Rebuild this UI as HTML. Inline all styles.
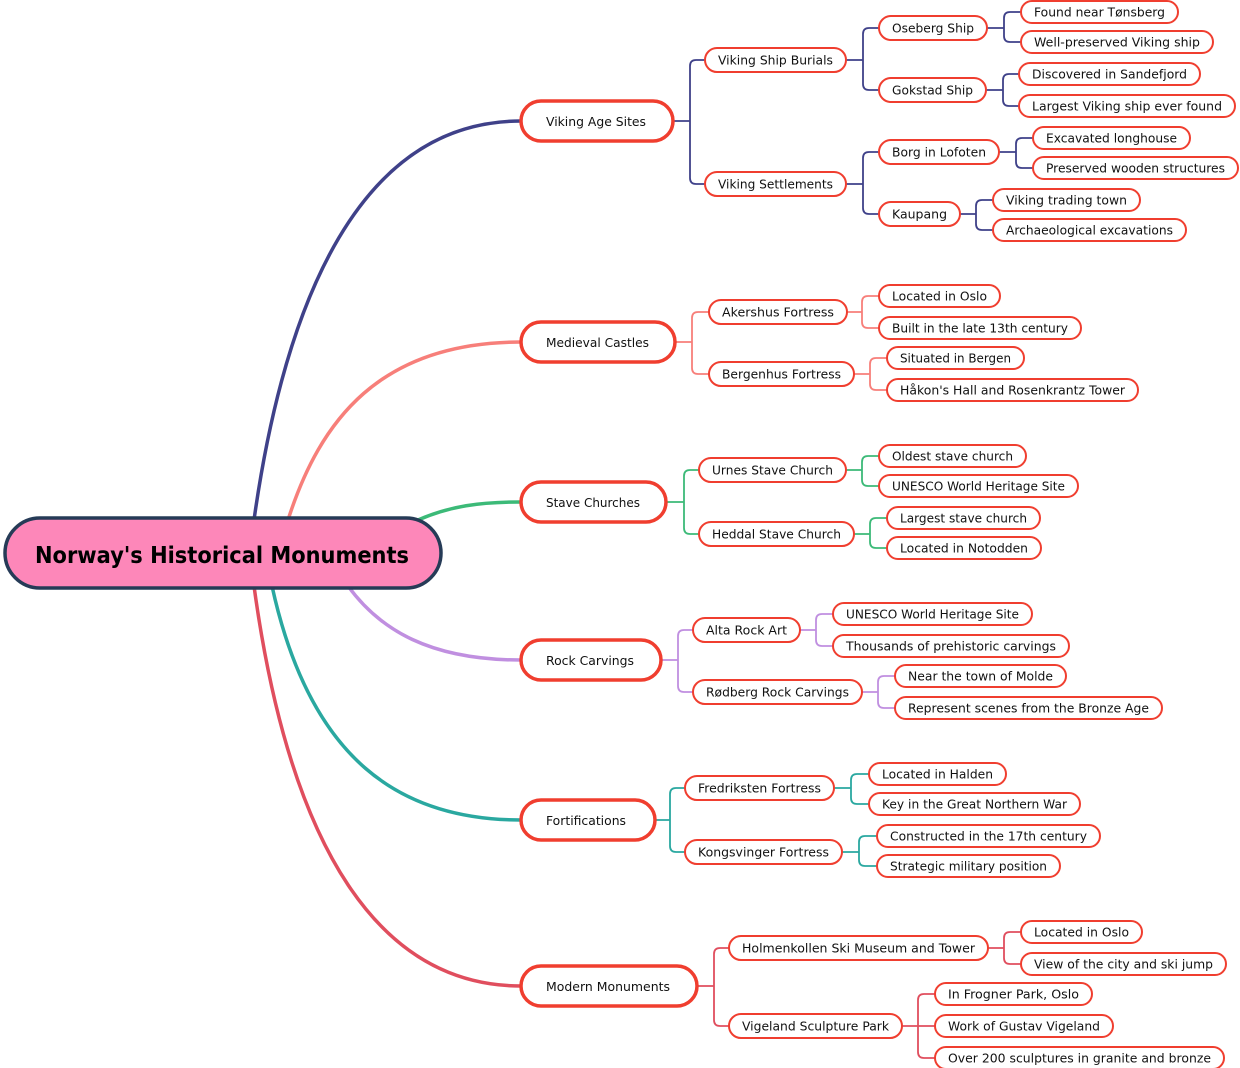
<!DOCTYPE html>
<html><head><meta charset="utf-8"><style>
html,body{margin:0;padding:0;background:#fff;}
svg{display:block;}
text{font-family:"DejaVu Sans","Liberation Sans",sans-serif;font-size:12.5px;fill:#111;}
.n{fill:#fff;stroke:#f03e2f;stroke-width:2;}
.n1{fill:#fff;stroke:#f03e2f;stroke-width:3.5;}
.c{fill:none;stroke-width:1.8;}
</style></head><body>
<svg width="1240" height="1068" viewBox="0 0 1240 1068" xmlns="http://www.w3.org/2000/svg">
<!-- main curves -->
<g fill="none" stroke-width="3.5">
<path d="M254,520 C285,300 360,121 521,121" stroke="#3f4189"/>
<path d="M288,520 C320,420 380,342 521,342" stroke="#f77f7a"/>
<path d="M418,520 C450,506 480,502 521,502" stroke="#3cba78"/>
<path d="M348,586 C380,630 430,660 521,660" stroke="#c08fe0"/>
<path d="M272,586 C310,760 400,820 521,820" stroke="#2aa8a0"/>
<path d="M254,586 C290,850 380,986 521,986" stroke="#e04e5e"/>
</g>
<!-- connectors -->
<g class="c" stroke="#3f4189">
<path d="M673,121H690M705,60H696Q690,60 690,66V178Q690,184 696,184H705"/>
<path d="M846,60H863M879,28H869Q863,28 863,34V84Q863,90 869,90H879"/>
<path d="M846,184H863M879,152H869Q863,152 863,158V208Q863,214 869,214H879"/>
<path d="M987,28H1004M1021,12H1010Q1004,12 1004,18V36Q1004,42 1010,42H1021"/>
<path d="M986,90H1003M1019,74H1009Q1003,74 1003,80V100Q1003,106 1009,106H1019"/>
<path d="M999,152H1016M1033,138H1022Q1016,138 1016,144V162Q1016,168 1022,168H1033"/>
<path d="M960,214H976M993,200H982Q976,200 976,206V224Q976,230 982,230H993"/>
</g>
<g class="c" stroke="#f77f7a">
<path d="M675,342H692M709,312H698Q692,312 692,318V368Q692,374 698,374H709"/>
<path d="M847,312H862M879,296H868Q862,296 862,302V322Q862,328 868,328H879"/>
<path d="M854,374H870M887,358H876Q870,358 870,364V384Q870,390 876,390H887"/>
</g>
<g class="c" stroke="#3cba78">
<path d="M666,502H684M699,470H690Q684,470 684,476V528Q684,534 690,534H699"/>
<path d="M846,470H862M879,456H868Q862,456 862,462V480Q862,486 868,486H879"/>
<path d="M854,534H870M887,518H876Q870,518 870,524V542Q870,548 876,548H887"/>
</g>
<g class="c" stroke="#c08fe0">
<path d="M661,660H678M693,630H684Q678,630 678,636V686Q678,692 684,692H693"/>
<path d="M800,630H816M833,614H822Q816,614 816,620V640Q816,646 822,646H833"/>
<path d="M862,692H878M895,676H884Q878,676 878,682V702Q878,708 884,708H895"/>
</g>
<g class="c" stroke="#2aa8a0">
<path d="M655,820H670M685,788H676Q670,788 670,794V846Q670,852 676,852H685"/>
<path d="M834,788H851M869,774H857Q851,774 851,780V798Q851,804 857,804H869"/>
<path d="M842,852H859M877,836H865Q859,836 859,842V860Q859,866 865,866H877"/>
</g>
<g class="c" stroke="#e04e5e">
<path d="M697,986H714M729,948H720Q714,948 714,954V1020Q714,1026 720,1026H729"/>
<path d="M988,948H1004M1021,932H1010Q1004,932 1004,938V958Q1004,964 1010,964H1021"/>
<path d="M902,1026H935M935,994H924Q918,994 918,1000V1052Q918,1058 924,1058H935"/>
</g>
<!-- root -->
<rect x="5" y="518" width="436" height="70" rx="35" fill="#fd87b9" stroke="#263b57" stroke-width="3.5"/>
<text x="35" y="563" textLength="374" lengthAdjust="spacingAndGlyphs" style="font-size:23px;font-weight:bold;fill:#000">Norway's Historical Monuments</text>
<!-- level 1 -->
<g>
<rect class="n1" x="521" y="101" width="152" height="40" rx="20"/><text x="546" y="126" textLength="100" lengthAdjust="spacingAndGlyphs">Viking Age Sites</text>
<rect class="n1" x="521" y="322" width="154" height="40" rx="20"/><text x="546" y="347" textLength="103" lengthAdjust="spacingAndGlyphs">Medieval Castles</text>
<rect class="n1" x="521" y="482" width="145" height="40" rx="20"/><text x="546" y="507" textLength="94" lengthAdjust="spacingAndGlyphs">Stave Churches</text>
<rect class="n1" x="521" y="640" width="140" height="40" rx="20"/><text x="546" y="665" textLength="88" lengthAdjust="spacingAndGlyphs">Rock Carvings</text>
<rect class="n1" x="521" y="800" width="134" height="40" rx="20"/><text x="546" y="825" textLength="80" lengthAdjust="spacingAndGlyphs">Fortifications</text>
<rect class="n1" x="521" y="966" width="176" height="40" rx="20"/><text x="546" y="991" textLength="124" lengthAdjust="spacingAndGlyphs">Modern Monuments</text>
</g>
<!-- level 2/3/leaf -->
<g>
<rect class="n" x="705" y="48" width="141" height="24" rx="12"/><text x="718" y="64.5" textLength="115" lengthAdjust="spacingAndGlyphs">Viking Ship Burials</text>
<rect class="n" x="705" y="172" width="141" height="24" rx="12"/><text x="718" y="188.5" textLength="115" lengthAdjust="spacingAndGlyphs">Viking Settlements</text>
<rect class="n" x="879" y="16" width="108" height="24" rx="12"/><text x="892" y="32.5" textLength="82" lengthAdjust="spacingAndGlyphs">Oseberg Ship</text>
<rect class="n" x="879" y="78" width="107" height="24" rx="12"/><text x="892" y="94.5" textLength="81" lengthAdjust="spacingAndGlyphs">Gokstad Ship</text>
<rect class="n" x="879" y="140" width="120" height="24" rx="12"/><text x="892" y="156.5" textLength="94" lengthAdjust="spacingAndGlyphs">Borg in Lofoten</text>
<rect class="n" x="879" y="202" width="81" height="24" rx="12"/><text x="892" y="218.5" textLength="55" lengthAdjust="spacingAndGlyphs">Kaupang</text>
<rect class="n" x="1021" y="1" width="157" height="22" rx="11"/><text x="1034" y="16.5" textLength="131" lengthAdjust="spacingAndGlyphs">Found near Tønsberg</text>
<rect class="n" x="1021" y="31" width="192" height="22" rx="11"/><text x="1034" y="46.5" textLength="166" lengthAdjust="spacingAndGlyphs">Well-preserved Viking ship</text>
<rect class="n" x="1019" y="63" width="181" height="22" rx="11"/><text x="1032" y="78.5" textLength="155" lengthAdjust="spacingAndGlyphs">Discovered in Sandefjord</text>
<rect class="n" x="1019" y="95" width="216" height="22" rx="11"/><text x="1032" y="110.5" textLength="190" lengthAdjust="spacingAndGlyphs">Largest Viking ship ever found</text>
<rect class="n" x="1033" y="127" width="157" height="22" rx="11"/><text x="1046" y="142.5" textLength="131" lengthAdjust="spacingAndGlyphs">Excavated longhouse</text>
<rect class="n" x="1033" y="157" width="205" height="22" rx="11"/><text x="1046" y="172.5" textLength="179" lengthAdjust="spacingAndGlyphs">Preserved wooden structures</text>
<rect class="n" x="993" y="189" width="147" height="22" rx="11"/><text x="1006" y="204.5" textLength="121" lengthAdjust="spacingAndGlyphs">Viking trading town</text>
<rect class="n" x="993" y="219" width="193" height="22" rx="11"/><text x="1006" y="234.5" textLength="167" lengthAdjust="spacingAndGlyphs">Archaeological excavations</text>

<rect class="n" x="709" y="300" width="138" height="24" rx="12"/><text x="722" y="316.5" textLength="112" lengthAdjust="spacingAndGlyphs">Akershus Fortress</text>
<rect class="n" x="709" y="362" width="145" height="24" rx="12"/><text x="722" y="378.5" textLength="119" lengthAdjust="spacingAndGlyphs">Bergenhus Fortress</text>
<rect class="n" x="879" y="285" width="121" height="22" rx="11"/><text x="892" y="300.5" textLength="95" lengthAdjust="spacingAndGlyphs">Located in Oslo</text>
<rect class="n" x="879" y="317" width="202" height="22" rx="11"/><text x="892" y="332.5" textLength="176" lengthAdjust="spacingAndGlyphs">Built in the late 13th century</text>
<rect class="n" x="887" y="347" width="137" height="22" rx="11"/><text x="900" y="362.5" textLength="111" lengthAdjust="spacingAndGlyphs">Situated in Bergen</text>
<rect class="n" x="887" y="379" width="251" height="22" rx="11"/><text x="900" y="394.5" textLength="225" lengthAdjust="spacingAndGlyphs">Håkon's Hall and Rosenkrantz Tower</text>

<rect class="n" x="699" y="458" width="147" height="24" rx="12"/><text x="712" y="474.5" textLength="121" lengthAdjust="spacingAndGlyphs">Urnes Stave Church</text>
<rect class="n" x="699" y="522" width="155" height="24" rx="12"/><text x="712" y="538.5" textLength="129" lengthAdjust="spacingAndGlyphs">Heddal Stave Church</text>
<rect class="n" x="879" y="445" width="147" height="22" rx="11"/><text x="892" y="460.5" textLength="121" lengthAdjust="spacingAndGlyphs">Oldest stave church</text>
<rect class="n" x="879" y="475" width="199" height="22" rx="11"/><text x="892" y="490.5" textLength="173" lengthAdjust="spacingAndGlyphs">UNESCO World Heritage Site</text>
<rect class="n" x="887" y="507" width="153" height="22" rx="11"/><text x="900" y="522.5" textLength="127" lengthAdjust="spacingAndGlyphs">Largest stave church</text>
<rect class="n" x="887" y="537" width="154" height="22" rx="11"/><text x="900" y="552.5" textLength="128" lengthAdjust="spacingAndGlyphs">Located in Notodden</text>

<rect class="n" x="693" y="618" width="107" height="24" rx="12"/><text x="706" y="634.5" textLength="81" lengthAdjust="spacingAndGlyphs">Alta Rock Art</text>
<rect class="n" x="693" y="680" width="169" height="24" rx="12"/><text x="706" y="696.5" textLength="143" lengthAdjust="spacingAndGlyphs">Rødberg Rock Carvings</text>
<rect class="n" x="833" y="603" width="199" height="22" rx="11"/><text x="846" y="618.5" textLength="173" lengthAdjust="spacingAndGlyphs">UNESCO World Heritage Site</text>
<rect class="n" x="833" y="635" width="236" height="22" rx="11"/><text x="846" y="650.5" textLength="210" lengthAdjust="spacingAndGlyphs">Thousands of prehistoric carvings</text>
<rect class="n" x="895" y="665" width="171" height="22" rx="11"/><text x="908" y="680.5" textLength="145" lengthAdjust="spacingAndGlyphs">Near the town of Molde</text>
<rect class="n" x="895" y="697" width="267" height="22" rx="11"/><text x="908" y="712.5" textLength="241" lengthAdjust="spacingAndGlyphs">Represent scenes from the Bronze Age</text>

<rect class="n" x="685" y="776" width="149" height="24" rx="12"/><text x="698" y="792.5" textLength="123" lengthAdjust="spacingAndGlyphs">Fredriksten Fortress</text>
<rect class="n" x="685" y="840" width="157" height="24" rx="12"/><text x="698" y="856.5" textLength="131" lengthAdjust="spacingAndGlyphs">Kongsvinger Fortress</text>
<rect class="n" x="869" y="763" width="137" height="22" rx="11"/><text x="882" y="778.5" textLength="111" lengthAdjust="spacingAndGlyphs">Located in Halden</text>
<rect class="n" x="869" y="793" width="211" height="22" rx="11"/><text x="882" y="808.5" textLength="185" lengthAdjust="spacingAndGlyphs">Key in the Great Northern War</text>
<rect class="n" x="877" y="825" width="223" height="22" rx="11"/><text x="890" y="840.5" textLength="197" lengthAdjust="spacingAndGlyphs">Constructed in the 17th century</text>
<rect class="n" x="877" y="855" width="183" height="22" rx="11"/><text x="890" y="870.5" textLength="157" lengthAdjust="spacingAndGlyphs">Strategic military position</text>

<rect class="n" x="729" y="936" width="259" height="24" rx="12"/><text x="742" y="952.5" textLength="233" lengthAdjust="spacingAndGlyphs">Holmenkollen Ski Museum and Tower</text>
<rect class="n" x="729" y="1014" width="173" height="24" rx="12"/><text x="742" y="1030.5" textLength="147" lengthAdjust="spacingAndGlyphs">Vigeland Sculpture Park</text>
<rect class="n" x="1021" y="921" width="121" height="22" rx="11"/><text x="1034" y="936.5" textLength="95" lengthAdjust="spacingAndGlyphs">Located in Oslo</text>
<rect class="n" x="1021" y="953" width="205" height="22" rx="11"/><text x="1034" y="968.5" textLength="179" lengthAdjust="spacingAndGlyphs">View of the city and ski jump</text>
<rect class="n" x="935" y="983" width="157" height="22" rx="11"/><text x="948" y="998.5" textLength="131" lengthAdjust="spacingAndGlyphs">In Frogner Park, Oslo</text>
<rect class="n" x="935" y="1015" width="178" height="22" rx="11"/><text x="948" y="1030.5" textLength="152" lengthAdjust="spacingAndGlyphs">Work of Gustav Vigeland</text>
<rect class="n" x="935" y="1047" width="289" height="22" rx="11"/><text x="948" y="1062.5" textLength="263" lengthAdjust="spacingAndGlyphs">Over 200 sculptures in granite and bronze</text>
</g>
</svg>
</body></html>
